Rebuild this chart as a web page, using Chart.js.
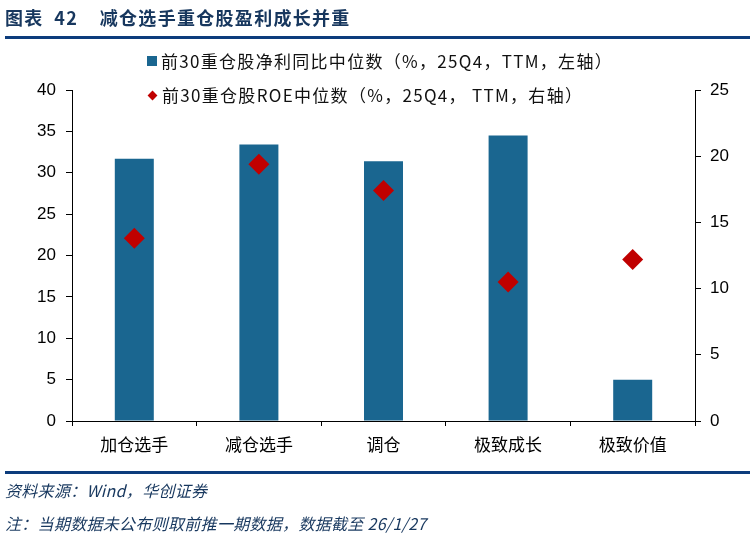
<!DOCTYPE html>
<html>
<head>
<meta charset="utf-8">
<script src="https://cdn.jsdelivr.net/npm/chart.js@4"></script>
<style>
  body { margin: 0; background: #fff; }
  #wrap { position: relative; width: 755px; height: 540px; overflow: hidden; }
  #chart { position: absolute; left: 0; top: 0; }
  .title { position: absolute; left: 5px; top: 4px; font: bold 18px "Noto Sans CJK SC"; color: #17375E; letter-spacing: 1.3px; white-space: nowrap; }
  .rule { position: absolute; left: 5px; width: 745px; height: 3px; background: #0C3C7C; }
  .legend { position: absolute; left: 147px; font: 17px "Noto Sans CJK SC"; color: #111; letter-spacing: 1.3px; white-space: nowrap; }
  .legend .sq { display: inline-block; width: 10px; height: 10px; background: #1A6690; margin-right: 4px; vertical-align: 2px; }
  .legend .dm { display: inline-block; width: 7px; height: 7px; background: #C00000; transform: rotate(45deg); margin: 0 6px 0 2px; vertical-align: 3px; }
  .note { position: absolute; left: 5px; font: italic 16px "Noto Sans CJK SC"; color: #17375E; letter-spacing: 0.3px; white-space: nowrap; }
</style>
</head>
<body>
<div id="wrap">
  <canvas id="chart" width="755" height="540"></canvas>
  <div class="title">图表&nbsp;&nbsp;42&nbsp;&nbsp;&nbsp;&nbsp;减仓选手重仓股盈利成长并重</div>
  <div class="rule" style="top:36px"></div>
  <div class="legend" style="top:48px"><span class="sq"></span>前30重仓股净利同比中位数（%，25Q4，TTM，左轴）</div>
  <div class="legend" style="top:82px"><span class="dm"></span>前30重仓股ROE中位数（%，25Q4， TTM，右轴）</div>
  <div class="rule" style="top:471px"></div>
  <div class="note" style="top:478px">资料来源：Wind，华创证券</div>
  <div class="note" style="top:511px">注：当期数据未公布则取前推一期数据，数据截至 26/1/27</div>
</div>
<script>
const categories = ['加仓选手', '减仓选手', '调仓', '极致成长', '极致价值'];
const profitGrowth = [31.7, 33.4, 31.4, 34.5, 5.0];
const roeMedian = [13.8, 19.4, 17.4, 10.5, 12.2];
const leftTicks = [0, 5, 10, 15, 20, 25, 30, 35, 40];
const rightTicks = [0, 5, 10, 15, 20, 25];

const tickFont = { family: 'Liberation Sans', size: 17 };
const catFont = { family: 'Noto Sans CJK SC', size: 17 };

const ctx = document.getElementById('chart').getContext('2d');
const chart = new Chart(ctx, {
    type: 'bar',
    data: {
        labels: categories,
        datasets: [
            {
                type: 'line',
                label: '前30重仓股ROE中位数（%，25Q4， TTM，右轴）',
                data: roeMedian,
                yAxisID: 'y1',
                showLine: false,
                pointStyle: 'rectRot',
                pointRadius: 10.5,
                pointHoverRadius: 10.5,
                backgroundColor: '#C00000',
                borderColor: '#C00000',
                borderWidth: 0
            },
            {
                label: '前30重仓股净利同比中位数（%，25Q4，TTM，左轴）',
                data: profitGrowth,
                yAxisID: 'y',
                backgroundColor: '#1A6690',
                barPercentage: 0.313,
                categoryPercentage: 1
            }
        ]
    },
    options: {
        responsive: false,
        animation: false,
        layout: { padding: { top: 90, left: 0, right: 0, bottom: 0 } },
        plugins: { legend: { display: false }, tooltip: { enabled: false } },
        scales: {
            x: {
                offset: true,
                grid: { offset: true, drawOnChartArea: false, drawTicks: true, tickLength: 5, color: '#000' },
                border: { color: '#000', width: 1 },
                ticks: { font: catFont, color: '#000', padding: 8 },
                afterFit: s => { s.height = 119; }
            },
            y: {
                position: 'left',
                min: leftTicks[0],
                max: leftTicks[leftTicks.length - 1],
                afterBuildTicks: s => { s.ticks = leftTicks.map(v => ({ value: v })); },
                grid: { drawOnChartArea: false, drawTicks: true, tickLength: 6, color: '#000' },
                border: { color: '#000', width: 1 },
                ticks: { font: tickFont, color: '#000', padding: 10 },
                afterFit: s => { s.width = 72; }
            },
            y1: {
                position: 'right',
                min: rightTicks[0],
                max: rightTicks[rightTicks.length - 1],
                afterBuildTicks: s => { s.ticks = rightTicks.map(v => ({ value: v })); },
                grid: { drawOnChartArea: false, drawTicks: true, tickLength: 6, color: '#000' },
                border: { color: '#000', width: 1 },
                ticks: { font: tickFont, color: '#000', padding: 9 },
                afterFit: s => { s.width = 60; }
            }
        }
    }
});
</script>
</body>
</html>
